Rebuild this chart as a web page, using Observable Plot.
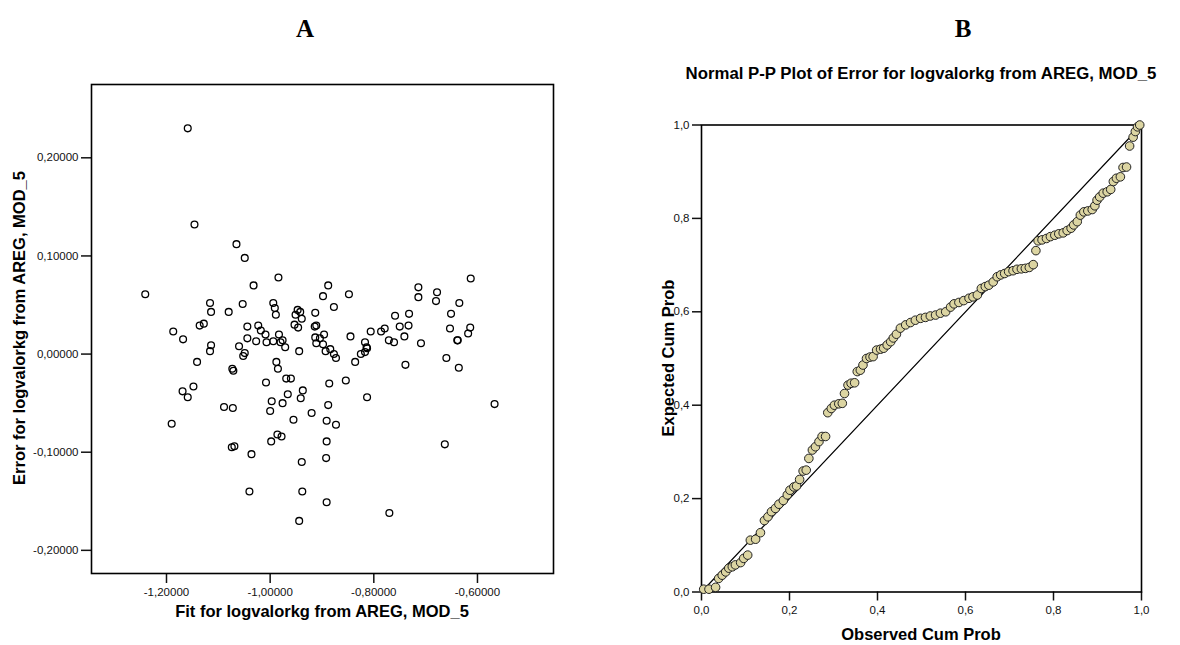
<!DOCTYPE html>
<html><head><meta charset="utf-8">
<script src="https://cdn.jsdelivr.net/npm/d3@7"></script>
<script src="https://cdn.jsdelivr.net/npm/@observablehq/plot@0.6"></script>
<style>
body{margin:0;background:#fff;}
#wrap{position:relative;width:1180px;height:645px;overflow:hidden;font-family:"Liberation Sans",Arial,sans-serif;background:#fff;}
.pnl{position:absolute;top:0;}
.lbl{position:absolute;font-weight:bold;font-size:16.5px;white-space:nowrap;color:#000;transform:translate(-50%,-50%);line-height:1;}
.rot{transform:translate(-50%,-50%) rotate(-90deg);}
.big{position:absolute;font-family:"Liberation Serif","Times New Roman",serif;font-weight:bold;font-size:25px;transform:translate(-50%,-50%);line-height:1;}
</style></head><body>
<div id="wrap">
  <div id="pa" class="pnl" style="left:0"></div>
  <div id="pb" class="pnl" style="left:590px"></div>
  <div class="big" style="left:305px;top:28px">A</div>
  <div class="big" style="left:963px;top:28px">B</div>
  <div class="lbl" style="left:921px;top:74px;font-size:16.8px">Normal P-P Plot of Error for logvalorkg from AREG, MOD_5</div>
  <div class="lbl rot" style="left:19px;top:328px">Error for logvalorkg from AREG, MOD_5</div>
  <div class="lbl" style="left:322px;top:611px">Fit for logvalorkg from AREG, MOD_5</div>
  <div class="lbl rot" style="left:668px;top:358px">Expected Cum Prob</div>
  <div class="lbl" style="left:921px;top:634px">Observed Cum Prob</div>
</div>
<script>
// Panel A: residual vs fitted
const fitX = [-1.159,-1.146,-1.065,-1.049,-0.984,-1.032,-1.241,-0.898,-0.888,
-1.116,-1.114,-1.080,-1.053,-0.994,-0.991,-0.989,-0.947,-0.942,-0.951,-0.939,-0.913,-0.953,-0.946,-0.911,-0.914,
-1.136,-1.128,-1.187,-1.168,-1.044,-1.023,-1.018,-1.009,-0.983,-1.044,-1.027,-1.007,-0.994,-0.980,-0.976,-0.971,
-0.913,-0.904,-0.896,-0.911,-0.898,-0.893,-0.884,-0.944,-1.114,-1.116,-1.060,-1.049,-1.052,-1.141,-0.988,-0.985,
-1.073,-1.071,-1.008,-0.969,-0.960,-0.886,-1.148,-1.169,-1.159,-0.937,-0.941,-0.966,-0.997,-0.976,-1.000,-1.089,
-1.072,-0.920,-0.955,-0.888,-0.891,-1.190,-0.986,-0.978,-0.998,-1.074,-1.069,-1.036,-0.939,-0.891,-0.892,-1.040,
-0.938,-0.891,-0.944,
-0.848,-0.877,-0.877,-0.873,-0.845,-0.836,-0.854,-0.873,-0.813,-0.770,-0.663,-0.567,-0.806,-0.786,-0.779,-0.817,
-0.814,-0.813,-0.817,-0.825,-0.771,-0.761,-0.759,-0.750,-0.741,-0.732,-0.733,-0.739,-0.709,-0.714,-0.714,-0.678,
-0.680,-0.635,-0.613,-0.651,-0.653,-0.638,-0.639,-0.614,-0.618,-0.660,-0.636];
const errY = [0.230,0.132,0.112,0.098,0.078,0.070,0.061,0.059,0.070,
0.052,0.043,0.043,0.051,0.052,0.047,0.040,0.045,0.043,0.040,0.036,0.042,0.030,0.027,0.029,0.028,
0.029,0.031,0.023,0.015,0.028,0.029,0.024,0.020,0.020,0.016,0.013,0.012,0.013,0.012,0.014,0.007,
0.017,0.016,0.020,0.011,0.010,0.003,0.005,0.003,0.009,0.003,0.008,0.001,-0.002,-0.008,-0.008,-0.015,
-0.015,-0.017,-0.029,-0.025,-0.025,-0.030,-0.033,-0.038,-0.044,-0.037,-0.045,-0.041,-0.048,-0.050,-0.058,-0.054,
-0.055,-0.060,-0.067,-0.052,-0.068,-0.071,-0.082,-0.084,-0.089,-0.095,-0.094,-0.102,-0.110,-0.089,-0.106,-0.140,
-0.140,-0.151,-0.170,
0.061,0.048,0.000,-0.004,0.018,-0.008,-0.027,-0.072,-0.044,-0.162,-0.092,-0.051,0.023,0.023,0.026,0.012,
0.007,0.006,0.002,0.000,0.014,0.012,0.039,0.028,0.018,0.041,0.029,-0.011,0.011,0.068,0.058,0.063,
0.054,0.052,0.077,0.041,0.026,0.014,0.014,0.027,0.021,-0.004,-0.014];
const xTicksA = [-1.2,-1.0,-0.8,-0.6];
const yTicksA = [-0.2,-0.1,0,0.1,0.2];

// Panel B: Normal P-P plot
const observedCum = [0.005,0.017,0.032,0.039,0.047,0.055,0.062,0.070,0.077,0.089,
0.096,0.105,0.111,0.123,0.134,0.143,0.151,0.159,0.168,0.176,
0.186,0.195,0.201,0.210,0.216,0.223,0.231,0.238,0.244,0.252,
0.259,0.267,0.274,0.282,0.287,0.295,0.302,0.312,0.320,0.325,
0.333,0.340,0.348,0.354,0.361,0.367,0.375,0.383,0.390,0.398,
0.407,0.414,0.422,0.430,0.436,0.443,0.452,0.464,0.475,0.486,
0.498,0.509,0.520,0.532,0.543,0.555,0.566,0.574,0.585,0.596,
0.608,0.617,0.627,0.636,0.645,0.653,0.663,0.672,0.680,0.689,
0.698,0.708,0.717,0.727,0.736,0.745,0.754,0.760,0.765,0.774,
0.784,0.793,0.803,0.812,0.822,0.831,0.840,0.846,0.854,0.861,
0.869,0.878,0.888,0.894,0.899,0.905,0.913,0.922,0.930,0.936,
0.943,0.952,0.958,0.966,0.973,0.981,0.986,0.991,0.996];
const expectedCum = [0.006,0.006,0.010,0.029,0.036,0.043,0.051,0.054,0.058,0.063,
0.072,0.079,0.111,0.113,0.127,0.153,0.161,0.172,0.179,0.188,
0.196,0.208,0.218,0.225,0.227,0.241,0.259,0.261,0.286,0.304,
0.311,0.322,0.333,0.333,0.384,0.393,0.400,0.403,0.404,0.425,
0.443,0.447,0.448,0.472,0.475,0.486,0.500,0.503,0.504,0.518,
0.520,0.522,0.529,0.536,0.544,0.552,0.565,0.572,0.577,0.582,
0.586,0.588,0.591,0.593,0.597,0.600,0.610,0.617,0.620,0.624,
0.629,0.632,0.636,0.650,0.654,0.657,0.664,0.675,0.679,0.682,
0.686,0.688,0.691,0.692,0.693,0.695,0.701,0.731,0.752,0.754,
0.757,0.761,0.764,0.767,0.769,0.774,0.779,0.786,0.793,0.807,
0.814,0.816,0.819,0.827,0.839,0.846,0.854,0.857,0.862,0.879,
0.886,0.889,0.909,0.910,0.955,0.974,0.986,0.996,1.000];
const ticksB = [0,0.2,0.4,0.6,0.8,1.0];
const diagonal = [0, 1];

const fmtA = d => d.toFixed(5).replace(".", ",");
const fmtB = d => d.toFixed(1).replace(".", ",");
const baseStyle = {fontFamily: "'Liberation Sans', Arial, sans-serif", fontSize: "11.5px", color: "#111", background: "transparent", overflow: "visible"};

const ptsA = fitX.map((x, i) => ({x, y: errY[i]}));
const plotA = Plot.plot({
  width: 590, height: 645,
  marginLeft: 91, marginRight: 37, marginTop: 84, marginBottom: 72,
  x: {domain: [-1.3447, -0.4533]},
  y: {domain: [-0.2236, 0.2747]},
  style: baseStyle,
  marks: [
    Plot.axisX({ticks: xTicksA, tickFormat: fmtA, tickSize: 10, tickPadding: 4, strokeWidth: 1.5, label: null}),
    Plot.axisY({ticks: yTicksA, tickFormat: fmtA, tickSize: 10, tickPadding: 3, strokeWidth: 1.5, label: null}),
    Plot.frame({stroke: "#000", strokeWidth: 1.6}),
    Plot.dot(ptsA, {x: "x", y: "y", r: 3.4, stroke: "#000", strokeWidth: 1.3, fill: "none"})
  ]
});
document.getElementById("pa").append(plotA);

const ptsB = observedCum.map((x, i) => ({x, y: expectedCum[i]}));
const plotB = Plot.plot({
  width: 590, height: 645,
  marginLeft: 111, marginRight: 39, marginTop: 124.5, marginBottom: 53.5,
  x: {domain: [0, 1]},
  y: {domain: [0, 1]},
  style: baseStyle,
  marks: [
    Plot.axisX({ticks: ticksB, tickFormat: fmtB, tickSize: 9, tickPadding: 5, strokeWidth: 1.5, label: null}),
    Plot.axisY({ticks: ticksB, tickFormat: fmtB, tickSize: 9, tickPadding: 3, strokeWidth: 1.5, label: null}),
    Plot.frame({stroke: "#000", strokeWidth: 1.6}),
    Plot.line(diagonal, {x: d => d, y: d => d, stroke: "#000", strokeWidth: 1.2}),
    Plot.dot(ptsB, {x: "x", y: "y", r: 4.3, stroke: "#222", strokeWidth: 1, fill: "#dcd5a2"})
  ]
});
document.getElementById("pb").append(plotB);
</script>
</body></html>
